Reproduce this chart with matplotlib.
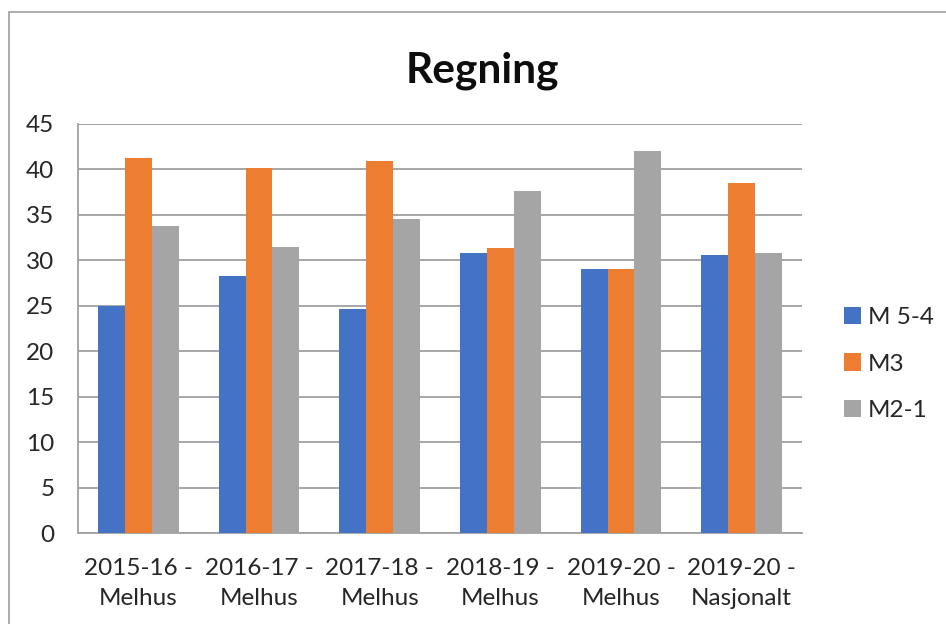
import matplotlib
matplotlib.use("Agg")
import matplotlib.pyplot as plt
import matplotlib.patches as mpatches
import numpy as np

categories = ["2015-16 -\nMelhus", "2016-17 -\nMelhus", "2017-18 -\nMelhus",
              "2018-19 -\nMelhus", "2019-20 -\nMelhus", "2019-20 -\nNasjonalt"]
series_names = ["M 5-4", "M3", "M2-1"]
m54 = [25.0, 28.3, 24.6, 30.8, 29.0, 30.6]
m3 = [41.3, 40.2, 40.9, 31.4, 29.0, 38.5]
m21 = [33.8, 31.5, 34.5, 37.6, 42.0, 30.8]
colors = ["#4472C4", "#ED7D31", "#A5A5A5"]
yticks = [0, 5, 10, 15, 20, 25, 30, 35, 40, 45]

plt.rcParams['font.family'] = ['Lato', 'DejaVu Sans']

fig = plt.figure(figsize=(9.46, 6.24), dpi=100)
ax = fig.add_axes([78/946, 1-533/624, (802-78)/946, (533-124)/624])

x = np.arange(len(categories))
w = 1/4.5
for i, (vals, name, c) in enumerate(zip([m54, m3, m21], series_names, colors)):
    ax.bar(x + (i-1)*w, vals, width=w, color=c, label=name, zorder=3)

ax.set_xlim(-0.5, len(categories)-0.5)
ax.set_ylim(0, 45)
ax.set_yticks(yticks)
ax.set_xticks(x)
ax.set_xticklabels(categories, fontsize=17.5, color="#262626", linespacing=1.55)
ax.tick_params(axis='y', length=0, pad=17, labelsize=17.5, labelcolor="#262626")
ax.tick_params(axis='x', length=0, pad=18)
ax.grid(axis='y', color="#a0a0a0", linewidth=1.3, zorder=0)
ax.set_axisbelow(True)
for s in ['top', 'right']:
    ax.spines[s].set_visible(False)
for s in ['left', 'bottom']:
    ax.spines[s].set_color("#a0a0a0")
    ax.spines[s].set_linewidth(1.3)

fig.text(482/946, 1-83/624, "Regning", fontsize=30.5, fontweight='bold',
         ha='center', va='baseline', color="#0d0d0d")

leg = fig.legend(loc='center left', bbox_to_anchor=(822/946, 1-364/624),
                 frameon=False, fontsize=17.5, handlelength=0.7, handleheight=0.7,
                 handletextpad=0.3, labelspacing=1.05, labelcolor="#262626")

border = mpatches.Rectangle((8.5/946, -0.1), 1.2, 1.1 - 11.5/624, transform=fig.transFigure,
                            fill=False, edgecolor="#a6a6a6", linewidth=1.3, clip_on=False)
fig.patches.append(border)

fig.savefig("out.png", dpi=100)
